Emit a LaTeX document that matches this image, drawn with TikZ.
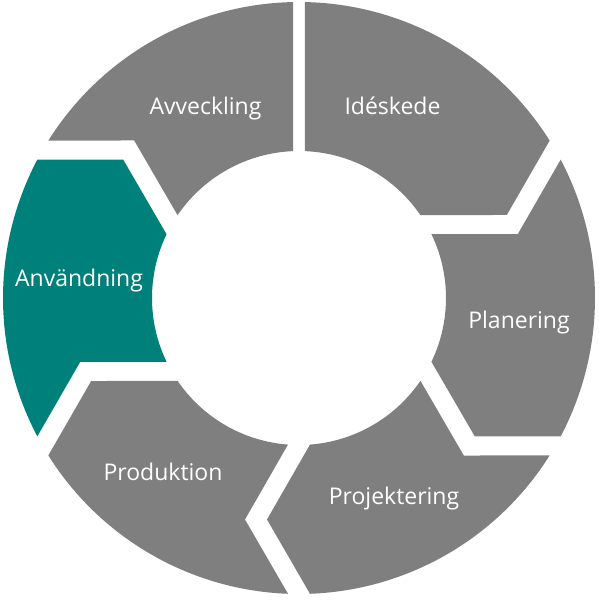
\documentclass[tikz,border=0pt]{standalone}
\usepackage{fontspec}
\setmainfont{Open Sans}
\definecolor{seggray}{RGB}{127,127,127}
\definecolor{segteal}{RGB}{0,128,122}
\begin{document}
\begin{tikzpicture}[x=1pt,y=1pt,
  seglabel/.style={text=white,anchor=base,inner sep=0pt,font=\fontsize{23}{27}\selectfont}]
\useasboundingbox (-299pt,-302pt) rectangle (300pt,298pt);
\pgfmathsetmacro\R{296}
\pgfmathsetmacro\r{147}
\pgfmathsetmacro\m{221.5}
\pgfmathsetmacro\g{11}
\pgfmathsetmacro\h{43}
\pgfmathsetmacro\gt{5.8}
\pgfmathsetmacro\dO{asin(\g/\R)}
\pgfmathsetmacro\dI{asin(\g/\r)}
\pgfmathsetmacro\tO{asin(\gt/\R)}
\pgfmathsetmacro\tI{asin(\gt/\r)}
\pgfmathsetmacro\tipS{\g-\h}
\pgfmathsetmacro\notS{-\g-\h}
% top boundary (straight gap)
\coordinate (Fo0) at (90+\tO:\R pt);
\coordinate (Fi0) at (90+\tI:\r pt);
\coordinate (Bo0) at (90-\tO:\R pt);
\coordinate (Bi0) at (90-\tI:\r pt);
% chevron boundaries
\foreach \t/\n in {30/a,-30/b,-90/c,-150/d,150/e}{
  \coordinate (Fo\n) at (\t+\dO:\R pt);
  \coordinate (Fi\n) at (\t+\dI:\r pt);
  \coordinate (Bo\n) at (\t-\dO:\R pt);
  \coordinate (Bi\n) at (\t-\dI:\r pt);
  \begin{scope}[rotate=\t]
    \coordinate (T\n) at (\m pt,\tipS pt);
    \coordinate (N\n) at (\m pt,\notS pt);
  \end{scope}
}
% Ideskede
\fill[seggray] (Bo0) arc[start angle=90-\tO, end angle=30+\dO, radius=\R pt]
  -- (Ta) -- (Fia) arc[start angle=30+\dI, end angle=90-\tI, radius=\r pt] -- cycle;
% Planering
\fill[seggray] (Boa) arc[start angle=30-\dO, end angle=-30+\dO, radius=\R pt]
  -- (Tb) -- (Fib) arc[start angle=-30+\dI, end angle=30-\dI, radius=\r pt] -- (Na) -- cycle;
% Projektering
\fill[seggray] (Bob) arc[start angle=-30-\dO, end angle=-90+\dO, radius=\R pt]
  -- (Tc) -- (Fic) arc[start angle=-90+\dI, end angle=-30-\dI, radius=\r pt] -- (Nb) -- cycle;
% Produktion
\fill[seggray] (Boc) arc[start angle=-90-\dO, end angle=-150+\dO, radius=\R pt]
  -- (Td) -- (Fid) arc[start angle=-150+\dI, end angle=-90-\dI, radius=\r pt] -- (Nc) -- cycle;
% Anvandning
\fill[segteal] (Bod) arc[start angle=210-\dO, end angle=150+\dO, radius=\R pt]
  -- (Te) -- (Fie) arc[start angle=150+\dI, end angle=210-\dI, radius=\r pt] -- (Nd) -- cycle;
% Avveckling
\fill[seggray] (Boe) arc[start angle=150-\dO, end angle=90+\tO, radius=\R pt]
  -- (Fi0) arc[start angle=90+\tI, end angle=150-\dI, radius=\r pt] -- (Ne) -- cycle;
% labels
\node[seglabel] (lav) at (-93.5,183.7) {Avveckling};
\node[seglabel] (lid) at (93.5,183) {Idéskede};
\node[seglabel] (lan) at (-220,12) {Användning};
\node[seglabel] (lpl) at (220,-30.3) {Planering};
\node[seglabel] (lpj) at (95,-206) {Projektering};
\node[seglabel] (lpr) at (-136,-182.7) {Produktion};
\end{tikzpicture}
\end{document}
